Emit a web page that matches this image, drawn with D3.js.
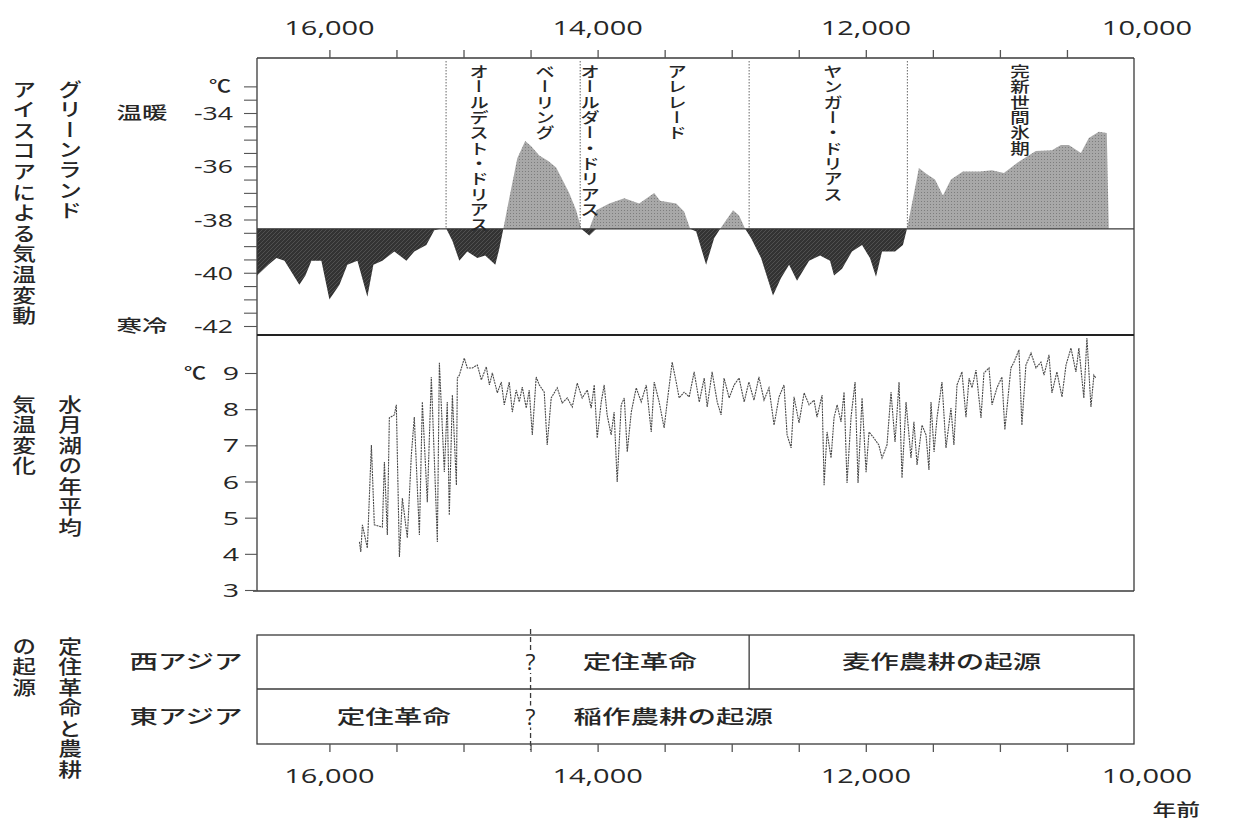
<!DOCTYPE html>
<html><head><meta charset="utf-8">
<script src="https://cdn.jsdelivr.net/npm/d3@7"></script>
<style>
body{margin:0;background:#fff;}
text{font-family:"Open Sans","Noto Sans CJK JP",sans-serif;fill:#262626;}
.jp{font-family:"Noto Sans CJK JP","Noto Sans",sans-serif;font-weight:500;}
</style></head><body>
<svg id="c" width="1235" height="822"></svg>
<script>
// ---------- data ----------
const xLabelYears=[16000,14000,12000,10000];
const xTickYears=[16000,15500,15000,14500,14000,13500,13000,12500,12000,11500,11000,10500];
const gLabelTicks=[-34,-36,-38,-40,-42];
const gMinorTicks=[-33,-33.5,-34,-34.5,-35,-35.5,-36,-36.5,-37,-37.5,-38,-38.5,-39,-39.5,-40,-40.5,-41,-41.5,-42];
const lakeTicks=[3,4,5,6,7,8,9];
const gBase=-38.35;

// Greenland ice core temperature (years BP, deg C)
const gYears=[16540,16455,16395,16335,16224,16179,16134,16060,16000,15925,15866,15791,15717,15672,15605,15516,15426,15367,15277,15218,15173,15128,15083,15031,14972,14897,14838,14763,14733,14703,14659,14599,14540,14495,14435,14368,14309,14212,14160,14122,14062,14010,13913,13801,13690,13578,13534,13414,13355,13310,13265,13191,13131,13086,12990,12945,12900,12855,12781,12692,12632,12572,12513,12423,12341,12267,12237,12177,12103,12028,11969,11924,11879,11782,11723,11693,11648,11604,11544,11484,11425,11365,11276,11149,11060,10970,10851,10732,10612,10545,10486,10396,10337,10262,10203,10188];
const gTemps=[-40.1,-39.7,-39.45,-39.55,-40.45,-40.1,-39.55,-39.55,-41.0,-40.45,-39.7,-39.55,-40.9,-39.7,-39.55,-39.2,-39.55,-39.2,-38.96,-38.4,-38.35,-38.35,-38.8,-39.55,-39.2,-39.45,-39.35,-39.7,-39.1,-38.35,-37.2,-35.7,-35.05,-35.25,-35.6,-35.8,-36.05,-37.0,-37.65,-38.35,-38.6,-37.65,-37.4,-37.2,-37.4,-37.0,-37.3,-37.4,-37.7,-38.35,-38.45,-39.7,-38.7,-38.35,-37.65,-37.85,-38.35,-38.7,-39.45,-40.85,-40.2,-39.7,-40.3,-39.55,-39.35,-39.55,-40.1,-39.85,-39.2,-38.96,-39.45,-40.15,-39.2,-39.2,-38.96,-38.35,-37.2,-36.07,-36.3,-36.5,-37.1,-36.5,-36.2,-36.2,-36.15,-36.25,-35.8,-35.43,-35.4,-35.2,-35.2,-35.5,-34.94,-34.7,-34.75,-38.35];

// Lake Suigetsu annual mean temperature (years BP, deg C)
const lakeYears=[15776,15766,15754,15717,15687,15665,15605,15590,15568,15553,15516,15501,15478,15456,15419,15389,15367,15329,15307,15270,15240,15195,15180,15143,15121,15106,15083,15053,15046,15031,14994,14972,14934,14897,14867,14830,14807,14785,14748,14718,14696,14659,14636,14607,14584,14562,14532,14510,14487,14458,14435,14398,14376,14346,14301,14264,14226,14189,14152,14115,14077,14048,14025,14003,13973,13951,13929,13899,13877,13854,13824,13801,13779,13749,13712,13675,13637,13600,13578,13541,13504,13481,13444,13414,13392,13355,13317,13280,13242,13205,13183,13146,13108,13079,13057,13019,12982,12945,12907,12872,12834,12797,12759,12722,12684,12647,12610,12587,12557,12535,12498,12460,12423,12386,12364,12326,12311,12289,12259,12237,12214,12185,12162,12140,12110,12080,12058,12028,11998,11976,11939,11903,11879,11842,11812,11782,11752,11730,11700,11663,11641,11618,11581,11551,11529,11514,11491,11469,11432,11402,11365,11343,11320,11283,11253,11230,11208,11178,11141,11119,11081,11059,11022,10985,10963,10918,10895,10858,10836,10806,10768,10731,10694,10671,10634,10612,10575,10537,10507,10470,10433,10411,10374,10351,10321,10299,10284];
const lakeTemps=[4.33,4.05,4.80,4.16,7.01,4.80,4.74,6.54,4.52,7.76,7.84,8.12,3.91,5.54,4.44,6.73,7.78,4.52,8.20,5.43,8.89,4.33,9.28,6.26,8.20,5.07,8.39,5.90,8.86,8.94,9.41,9.14,9.14,9.22,8.81,9.17,8.67,9.00,8.45,8.75,8.12,8.75,7.92,8.53,8.20,8.61,8.03,8.53,7.29,8.89,8.67,8.47,7.01,8.31,8.59,8.17,8.31,8.06,8.72,8.31,8.53,8.03,8.67,7.20,8.20,8.67,7.84,7.29,7.92,5.99,8.12,8.31,6.82,7.92,8.59,8.20,8.67,7.37,8.75,8.20,7.48,8.20,9.30,8.75,8.31,8.47,8.34,9.03,8.20,8.86,8.06,9.03,8.20,7.84,8.86,8.31,8.67,8.86,8.20,8.75,8.25,8.89,8.25,8.59,7.56,8.34,8.67,7.29,6.93,8.34,7.62,8.45,8.12,8.25,7.78,8.39,5.90,7.37,6.65,7.76,8.12,7.65,8.47,5.96,7.78,8.75,5.96,8.31,6.26,7.37,7.20,7.01,6.65,7.01,8.47,7.09,8.75,6.10,8.20,6.65,7.65,6.46,7.56,7.29,6.32,8.20,6.82,7.76,8.75,6.93,8.03,7.01,8.67,9.03,7.78,8.86,8.59,9.08,7.76,9.00,9.14,8.12,8.59,8.89,7.43,9.14,9.30,9.64,7.56,9.22,9.55,9.14,9.30,8.94,9.50,8.45,9.03,8.34,9.22,9.69,9.03,9.69,8.31,9.97,8.06,8.94,8.86];

// climate periods
const periodNames=["オールデスト・ドリアス","ベーリング","オールダー・ドリアス","アレレード","ヤンガー・ドリアス","完新世間氷期"];
const periodLabelYears=[14885,14392,14057,13408,12245,10850];
const boundaryYears=[15130,14130,12870,11690];

// sedentism / agriculture
const regions=["西アジア","東アジア"];
const westLabels=["定住革命","麦作農耕の起源"];
const westStarts=[14500,12870];
const westEnds=[12870,10000];
const eastLabels=["定住革命","稲作農耕の起源"];
const eastStarts=[16540,14500];
const eastEnds=[14500,10000];
const uncertainYear=14500;

// ---------- drawing ----------
const svg=d3.select("#c");
const lineC="#3a3a3a";
const xDomain=[16540,10000];
const x=d3.scaleLinear().domain(xDomain).range([257,1134]);
const yG=d3.scaleLinear().domain([-42,-34]).range([326,113]);
const yL=d3.scaleLinear().domain([3,9]).range([590,373]);
const L=x(xDomain[0]), R=x(xDomain[1]);
const TOP=58, SEP=335, MIDBOT=591, BTOP=635, BMID=689, BBOT=744;
const SX=1.45;

function htext(x0,y0,s,size,anchor,sx,cls){
  return svg.append("text").attr("class",cls||"")
    .attr("transform",`translate(${x0},${y0}) scale(${sx||SX},1)`)
    .attr("text-anchor",anchor||"middle").attr("font-size",size).text(s);
}
function vtext(x0,y0,s,size,sx,ls){
  return svg.append("text").attr("class","jp")
    .attr("transform",`translate(${x0},${y0}) scale(${sx},1)`)
    .style("writing-mode","vertical-rl")
    .attr("font-size",size).attr("letter-spacing",ls||0).text(s);
}

// patterns
const defs=svg.append("defs");
const pg=defs.append("pattern").attr("id","pGray").attr("width",3).attr("height",3).attr("patternUnits","userSpaceOnUse");
pg.append("rect").attr("width",3).attr("height",3).attr("fill","#a8a8a8");
pg.append("rect").attr("width",1).attr("height",1).attr("fill","#7d7d7d");
const pd=defs.append("pattern").attr("id","pDark").attr("width",4).attr("height",4).attr("patternUnits","userSpaceOnUse");
pd.append("rect").attr("width",4).attr("height",4).attr("fill","#333");
pd.append("path").attr("d","M0,4 L4,0").attr("stroke","#505050").attr("stroke-width",1);

// Greenland area
const gData=gYears.map((yr,i)=>({yr,t:gTemps[i]}));
svg.append("path").datum(gData)
  .attr("d",d3.area().x(d=>x(d.yr)).y0(yG(gBase)).y1(d=>yG(Math.max(d.t,gBase))))
  .attr("fill","url(#pGray)");
svg.append("path").datum(gData)
  .attr("d",d3.area().x(d=>x(d.yr)).y0(yG(gBase)).y1(d=>yG(Math.min(d.t,gBase))))
  .attr("fill","url(#pDark)");
svg.append("line").attr("x1",L).attr("x2",R).attr("y1",yG(gBase)).attr("y2",yG(gBase))
  .attr("stroke",lineC).attr("stroke-width",1.2);

// period boundaries
svg.selectAll(".bd").data(boundaryYears).join("line")
  .attr("x1",d=>x(d)).attr("x2",d=>x(d)).attr("y1",TOP+3).attr("y2",yG(gBase))
  .attr("stroke","#666").attr("stroke-width",1).attr("stroke-dasharray","1.5,1.5");

// period labels
periodNames.forEach((n,i)=>{ vtext(x(periodLabelYears[i]),64,n,15,1.3,0.3); });

// Lake line
const lData=lakeYears.map((yr,i)=>({yr,t:lakeTemps[i]}));
svg.append("path").datum(lData)
  .attr("d",d3.line().x(d=>x(d.yr)).y(d=>yL(d.t)))
  .attr("fill","none").attr("stroke","#4a4a4a").attr("stroke-width",1.1)
  .attr("stroke-dasharray","2,0.8");

// frames
svg.append("line").attr("x1",L).attr("x2",R).attr("y1",TOP).attr("y2",TOP).attr("stroke",lineC).attr("stroke-width",1.3);
svg.append("line").attr("x1",L).attr("x2",L).attr("y1",TOP).attr("y2",MIDBOT).attr("stroke",lineC).attr("stroke-width",1.3);
svg.append("line").attr("x1",R).attr("x2",R).attr("y1",TOP).attr("y2",MIDBOT).attr("stroke",lineC).attr("stroke-width",1.3);
svg.append("line").attr("x1",L).attr("x2",R).attr("y1",SEP).attr("y2",SEP).attr("stroke","#222").attr("stroke-width",2);
svg.append("line").attr("x1",L-4).attr("x2",R).attr("y1",MIDBOT).attr("y2",MIDBOT).attr("stroke",lineC).attr("stroke-width",1.3);

// top axis
const ta=svg.append("g").attr("transform",`translate(0,${TOP})`)
  .call(d3.axisTop(x).tickValues(xTickYears).tickSize(8).tickFormat(""));
ta.select(".domain").remove();
ta.selectAll("line").attr("stroke","#555").attr("stroke-width",1.3);
xLabelYears.forEach(v=>{
  const lx = v===xDomain[1] ? x(v)+13 : x(v);
  htext(lx,35,d3.format(",")(v),20,"middle");
});

// Greenland y axis
const ga=svg.append("g").attr("transform",`translate(${L},0)`)
  .call(d3.axisLeft(yG).tickValues(gMinorTicks).tickSize(13).tickFormat(""));
ga.select(".domain").remove();
ga.selectAll("line").attr("stroke","#555").attr("stroke-width",1.1);
gLabelTicks.forEach(v=>htext(233,yG(v)+7,String(v),19,"end",1.4));
htext(231,yG(-33)+6,"℃",17,"end",1.3,"jp");
htext(142,yG(-34)+6,"温暖",17,"middle",1.5,"jp");
htext(142,yG(-42)+6,"寒冷",17,"middle",1.5,"jp");

// Lake y axis
const la=svg.append("g").attr("transform",`translate(${L},0)`)
  .call(d3.axisLeft(yL).tickValues(lakeTicks).tickSize(12).tickFormat(""));
la.select(".domain").remove();
la.selectAll("line").attr("stroke","#555").attr("stroke-width",1.1);
lakeTicks.forEach(v=>htext(239,yL(v)+7,String(v),19,"end",1.5));
htext(206,yL(9)+6,"℃",17,"end",1.3,"jp");

// left titles
vtext(24,80,"アイスコアによる気温変動",19,1.25,1.6);
vtext(70,80,"グリーンランド",19,1.25,1.2);
vtext(24,395,"気温変化",19,1.25,1.5);
vtext(70,395,"水月湖の年平均",19,1.25,1.5);
vtext(24,637,"の起源",19,1.25,1.5);
vtext(70,637,"定住革命と農耕",19,1.25,1.5);

// bottom panel
svg.append("rect").attr("x",L).attr("y",BTOP).attr("width",R-L).attr("height",BBOT-BTOP)
  .attr("fill","none").attr("stroke",lineC).attr("stroke-width",1.3);
svg.append("line").attr("x1",L).attr("x2",R).attr("y1",BMID).attr("y2",BMID).attr("stroke",lineC).attr("stroke-width",1.3);
svg.append("line").attr("x1",x(westStarts[1])).attr("x2",x(westStarts[1])).attr("y1",BTOP).attr("y2",BMID)
  .attr("stroke",lineC).attr("stroke-width",1.3);
svg.append("line").attr("x1",x(uncertainYear)).attr("x2",x(uncertainYear)).attr("y1",BTOP-6).attr("y2",BBOT+6)
  .attr("stroke",lineC).attr("stroke-width",1.3).attr("stroke-dasharray","5,3");
[(BTOP+BMID)/2,(BMID+BBOT)/2].forEach(cy=>{
  svg.append("rect").attr("x",x(uncertainYear)-7).attr("y",cy-11).attr("width",14).attr("height",22).attr("fill","#fff");
  htext(x(uncertainYear),cy+8,"?",21,"middle",1.1);
});
const rowY=[(BTOP+BMID)/2+7,(BMID+BBOT)/2+7];
regions.forEach((r,i)=>htext(186,rowY[i],r,19,"middle",1.5,"jp"));
westLabels.forEach((s,i)=>htext((x(westStarts[i])+x(westEnds[i]))/2,rowY[0],s,19,"middle",1.5,"jp"));
htext((x(eastStarts[0])+x(eastEnds[0]))/2,rowY[1],eastLabels[0],19,"middle",1.5,"jp");
htext(x(eastStarts[1])+43,rowY[1],eastLabels[1],19,"start",1.5,"jp");

// bottom axis
const ba=svg.append("g").attr("transform",`translate(0,${BBOT})`)
  .call(d3.axisBottom(x).tickValues(xTickYears).tickSize(8).tickFormat(""));
ba.select(".domain").remove();
ba.selectAll("line").attr("stroke","#555").attr("stroke-width",1.3);
xLabelYears.forEach(v=>{
  const lx = v===xDomain[1] ? x(v)+13 : x(v);
  htext(lx,783,d3.format(",")(v),20,"middle");
});
htext(1200,816,"年前",17,"end",1.4,"jp");
</script>
</body></html>
